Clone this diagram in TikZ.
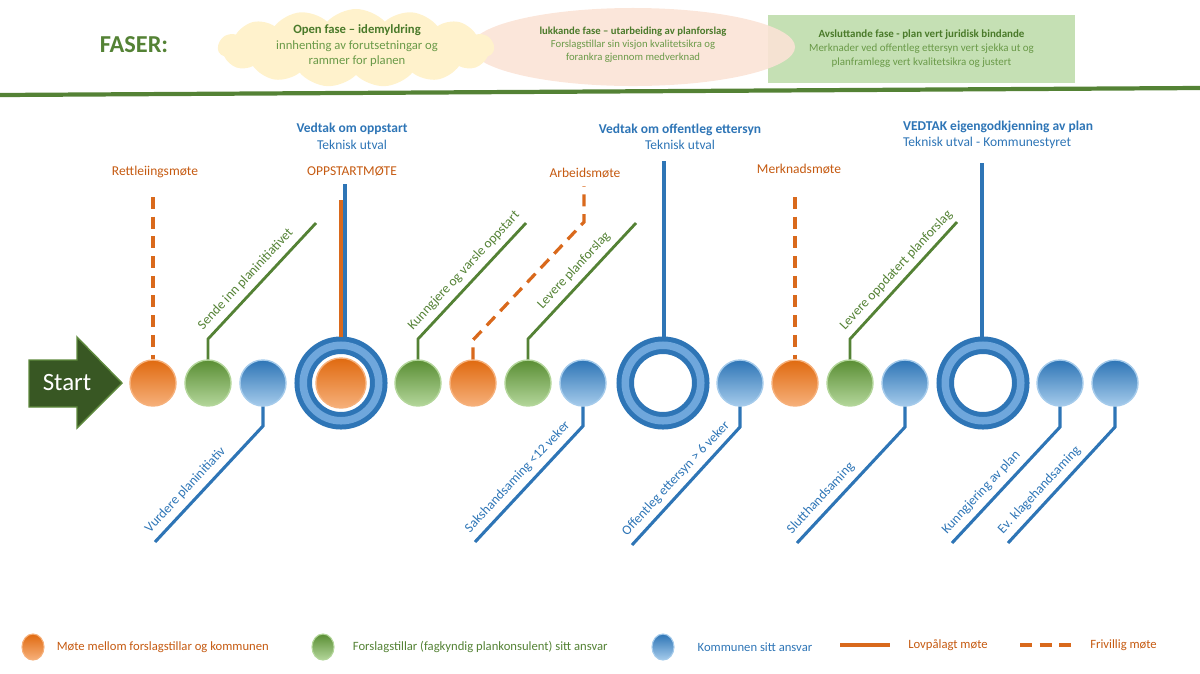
\documentclass[tikz,border=0pt]{standalone}
\usepackage{fontspec}
\setmainfont{Carlito}
\usetikzlibrary{positioning,calc,shapes.geometric,shapes.symbols}

\definecolor{orgD}{HTML}{E06A10}
\definecolor{orgL}{HTML}{F6B07A}
\definecolor{orgT}{HTML}{C55A11}
\definecolor{orgLn}{HTML}{D9691C}
\definecolor{grnD}{HTML}{5A8E34}
\definecolor{grnL}{HTML}{B3D69A}
\definecolor{grnT}{HTML}{548235}
\definecolor{bluD}{HTML}{2E75B6}
\definecolor{bluL}{HTML}{A5CBEB}
\definecolor{bluM}{HTML}{6FA7DC}
\definecolor{bluT}{HTML}{2E75B6}
\definecolor{arrG}{HTML}{385723}
\definecolor{arrL}{HTML}{5F8A3E}
\definecolor{hdrB}{HTML}{4A7A2A}
\definecolor{hdrT}{HTML}{6A9A48}
\definecolor{skyY}{HTML}{FFF2CC}
\definecolor{skyP}{HTML}{FBE3D6}
\definecolor{boxG}{HTML}{C5E0B4}

\tikzset{
  ball/.style={circle, inner sep=0pt, minimum size=1.15cm, line width=1pt},
  ballM/.style={ball, draw=orgL, top color=orgD, bottom color=orgL},
  ballP/.style={ball, draw=grnL, top color=grnD, bottom color=grnL},
  ballK/.style={ball, draw=bluL, top color=bluD, bottom color=bluL},
  ringK/.style={circle, inner sep=0pt, minimum size=1.8875cm, draw=bluD,
    line width=0.125cm, double=bluM, double distance=0.1875cm, outer sep=0.21875cm},
  lgball/.style={ellipse, inner sep=0pt, minimum width=0.55cm, minimum height=0.65cm, line width=0.8pt},
  lineM/.style={draw=orgLn, line width=2.3pt},
  lineMfri/.style={lineM, dash pattern=on 8.5pt off 5.5pt},
  lineP/.style={draw=grnT, line width=2pt},
  lineK/.style={draw=bluT, line width=2.2pt},
  txt/.style={font=\fontsize{9.6}{11.5}\selectfont, inner sep=2pt, text height=1.5ex, text depth=.25ex},
  txtM/.style={txt, text=orgT},
  txtP/.style={txt, text=grnT},
  txtK/.style={txt, text=bluT},
  skraa/.style={rotate=47, anchor=south west, inner ysep=4.5pt, text depth=.45ex},
  lgtxt/.style={font=\fontsize{9}{11}\selectfont, inner sep=2pt, anchor=west},
}

\begin{document}
\begin{tikzpicture}[x=0.025cm, y=-0.025cm]
  \useasboundingbox (0,0) rectangle (1200,673);

  % faser
  \node[font=\fontsize{17.3}{20}\selectfont\bfseries, text=grnT] (faser) at (134,45) {FASER:};
  \node[rectangle, fill=boxG, minimum width=7.675cm, minimum height=1.7cm] (fAvsl) at (921.5,49) {};
  \node[ellipse, fill=skyP, fill opacity=.9, minimum width=8.1cm, minimum height=1.95cm] (fLukk) at (633,47) {};
  \node[cloud, cloud puffs=15, cloud puff arc=95, aspect=3.4, fill=skyY, minimum width=6.9cm, minimum height=1.95cm] (fOpen) at (356,48) {};
  \node[font=\fontsize{9}{11}\selectfont, text=hdrT, align=center] (tOpen) at (357,46)
    {{\color{hdrB}\bfseries Open fase – idemyldring}\\innhenting av forutsetningar og\\rammer for planen};
  \node[font=\fontsize{7.6}{9.2}\selectfont, text=hdrT, align=center] (tLukk) at (633,45)
    {{\color{hdrB}\bfseries lukkande fase – utarbeiding av planforslag}\\Forslagstillar sin visjon kvalitetsikra og\\forankra gjennom medverknad};
  \node[font=\fontsize{7.8}{10}\selectfont, text=hdrT, align=center] (tAvsl) at (921.5,49)
    {{\color{hdrB}\bfseries Avsluttande fase - plan vert juridisk bindande}\\Merknader ved offentleg ettersyn vert sjekka ut og\\planframlegg vert kvalitetsikra og justert};
  \draw[draw=grnT, line width=3pt] (0,95) -- (1200,88);

  % start
  \fill[arrG, draw=arrL, line width=1pt] (29,360) -- (77,360) -- (77,337) -- (122,383)
    -- (77,428) -- (77,407) -- (29,407) -- cycle;
  \node[font=\fontsize{17.7}{20}\selectfont, text=white] (start) at (67,383) {Start};

  % tidslinje
  \node[ballM] (m1) at (153,383) {};
  \node[ballP] (p1) at (208,383) {};
  \node[ballK] (k1) at (263,383) {};
  \node[ringK] (r1) at (341,383) {};
  \node[ballM, minimum size=1.25cm] (m2) at (341,383) {};
  \node[ballP] (p2) at (418,383) {};
  \node[ballM] (m3) at (473,383) {};
  \node[ballP] (p3) at (528,383) {};
  \node[ballK] (k2) at (583,383) {};
  \node[ringK] (r2) at (663,383) {};
  \node[ballK] (k3) at (740,383) {};
  \node[ballM] (m4) at (795,383) {};
  \node[ballP] (p4) at (850,383) {};
  \node[ballK] (k4) at (905,383) {};
  \node[ringK] (r3) at (983,383) {};
  \node[ballK] (k5) at (1060,383) {};
  \node[ballK] (k6) at (1115,383) {};

  % moete
  \coordinate (m1t) at (153,197);
  \coordinate (m3k) at (473,340);
  \coordinate (m3d) at (584,222);
  \coordinate (m3t) at (584,186);
  \coordinate (m4t) at (795,197);
  \coordinate (r1o) at (341,200);
  \draw[lineMfri] (m1t) -- (m1);
  \draw[lineMfri] (m3) -- (m3k) -- (m3d) -- (m3t);
  \draw[lineMfri] (m4t) -- (m4);
  \draw[lineM] (r1o) -- (r1o |- r1.north);
  \node[txtM] (tRett) at (155,171) {Rettleiingsmøte};
  \node[txtM] (tOpp) at (352,171) {OPPSTARTMØTE};
  \node[txtM] (tArb) at (585,173) {Arbeidsmøte};
  \node[txtM] (tMerk) at (799,169) {Merknadsmøte};

  % vedtak
  \coordinate (r1t) at (345,184);
  \coordinate (r2t) at (664,161);
  \coordinate (r3t) at (982,163);
  \draw[lineK] (r1t) -- (r1t |- r1.north);
  \draw[lineK] (r2t) -- (r2t |- r2.north);
  \draw[lineK] (r3t) -- (r3t |- r3.north);
  \node[txtK, font=\fontsize{9.6}{11.5}\selectfont\bfseries] (tV1) at (352,128) {Vedtak om oppstart};
  \node[txtK] (tV1b) at (352,145) {Teknisk utval};
  \node[txtK, font=\fontsize{9.6}{11.5}\selectfont\bfseries] (tV2) at (680,129) {Vedtak om offentleg ettersyn};
  \node[txtK] (tV2b) at (680,145) {Teknisk utval};
  \node[txtK, font=\fontsize{9.6}{11.5}\selectfont\bfseries, anchor=west] (tV3) at (900,126) {VEDTAK eigengodkjenning av plan};
  \node[txtK, anchor=west] (tV3b) at (900,142) {Teknisk utval - Kommunestyret};

  % forslagstillar
  \coordinate (p1k) at (208,339); \coordinate (p1t) at (316,223);
  \coordinate (p2k) at (418,339); \coordinate (p2t) at (526,223);
  \coordinate (p3k) at (528,339); \coordinate (p3t) at (636,223);
  \coordinate (p4k) at (850,339); \coordinate (p4t) at (957,222);
  \draw[lineP] (p1) -- (p1k) -- (p1t);
  \draw[lineP] (p2) -- (p2k) -- (p2t);
  \draw[lineP] (p3) -- (p3k) -- (p3t);
  \draw[lineP] (p4) -- (p4k) -- (p4t);
  \node[txtP, skraa] (lP1) at (p1k) {Sende inn planinitiativet};
  \node[txtP, skraa] (lP2) at (p2k) {Kunngjere og varsle oppstart};
  \node[txtP, skraa] (lP3) at ($(p3k)!0.18!(p3t)$) {Levere planforslag};
  \node[txtP, skraa] (lP4) at (p4k) {Levere oppdatert planforslag};

  % kommunen
  \coordinate (k1k) at (263,426); \coordinate (k1e) at (155,542);
  \coordinate (k2k) at (583,426); \coordinate (k2e) at (475,542);
  \coordinate (k3k) at (740,427); \coordinate (k3e) at (632,545);
  \coordinate (k4k) at (905,427); \coordinate (k4e) at (797,543);
  \coordinate (k5k) at (1060,427); \coordinate (k5e) at (952,543);
  \coordinate (k6k) at (1115,427); \coordinate (k6e) at (1008,543);
  \draw[lineK] (k1) -- (k1k) -- (k1e);
  \draw[lineK] (k2) -- (k2k) -- (k2e);
  \draw[lineK] (k3) -- (k3k) -- (k3e);
  \draw[lineK] (k4) -- (k4k) -- (k4e);
  \draw[lineK] (k5) -- (k5k) -- (k5e);
  \draw[lineK] (k6) -- (k6k) -- (k6e);
  \node[txtK, skraa] (lK1) at (k1e) {Vurdere planinitiativ};
  \node[txtK, skraa] (lK2) at (k2e) {Sakshandsaming <12 veker};
  \node[txtK, skraa] (lK3) at (k3e) {Offentleg ettersyn > 6 veker};
  \node[txtK, skraa] (lK4) at (k4e) {Slutthandsaming};
  \node[txtK, skraa] (lK5) at (k5e) {Kunngjering av plan};
  \node[txtK, skraa] (lK6) at (k6e) {Ev. klagehandsaming};

  % forklaring
  \node[lgball, draw=orgL, top color=orgD, bottom color=orgL] (lgM) at (33,647) {};
  \node[lgball, draw=grnL, top color=grnD, bottom color=grnL] (lgP) at (323,647) {};
  \node[lgball, draw=bluL, top color=bluD, bottom color=bluL] (lgK) at (663,647) {};
  \node[lgtxt, text=orgT, right=0.23cm of lgM] (lgMt) {Møte mellom forslagstillar og kommunen};
  \node[lgtxt, text=grnT, right=0.38cm of lgP] (lgPt) {Forslagstillar (fagkyndig plankonsulent) sitt ansvar};
  \node[lgtxt, text=bluT, right=0.5cm of lgK] (lgKt) {Kommunen sitt ansvar};
  \coordinate (lgL1) at (840,645); \coordinate (lgL2) at (890,645);
  \coordinate (lgF1) at (1020,645); \coordinate (lgF2) at (1072,645);
  \draw[lineM] (lgL1) -- (lgL2);
  \draw[lineMfri] (lgF1) -- (lgF2);
  \node[lgtxt, text=orgT, right=0.38cm of lgL2] (lgLt) {Lovpålagt møte};
  \node[lgtxt, text=orgT, right=0.38cm of lgF2] (lgFt) {Frivillig møte};
\end{tikzpicture}
\end{document}
